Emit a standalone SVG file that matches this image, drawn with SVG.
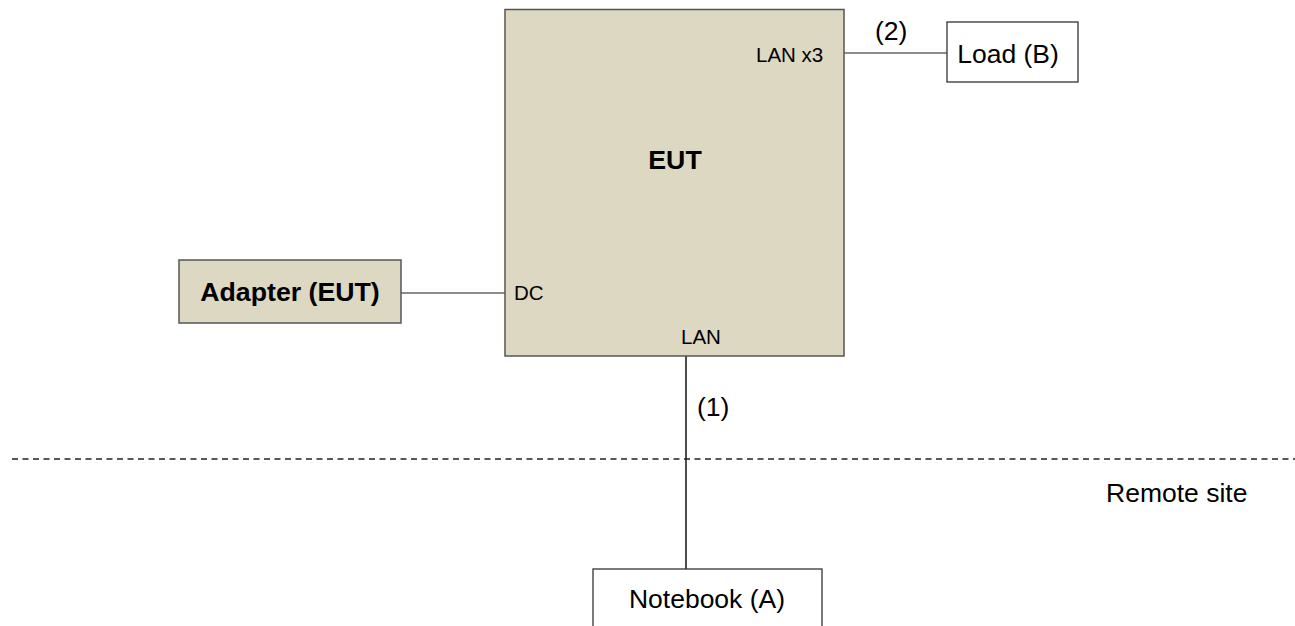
<svg xmlns="http://www.w3.org/2000/svg" width="1295" height="626" viewBox="0 0 1295 626">
<style>
.t{font-family:"Liberation Sans",Arial,sans-serif;fill:#000}
.lg{font-size:26.5px}
.sm{font-size:20.5px}
.b{font-size:26.7px;font-weight:bold}
.khaki{fill:#DDD8C2;stroke:#555;stroke-width:1.5}
.white{fill:#fff;stroke:#333;stroke-width:1.3}
.conn{stroke:#666;stroke-width:1.5;fill:none}
</style>
<rect width="1295" height="626" fill="#fff"/>
<g id="connectors">
<line class="conn" x1="401" y1="293" x2="505" y2="293"/>
<line class="conn" x1="844" y1="53" x2="947" y2="53"/>
<line x1="686" y1="356" x2="686" y2="569" stroke="#111" stroke-width="1.5"/>
<text class="t lg" x="697" y="416">(1)</text>
<text class="t lg" x="875" y="40">(2)</text>
</g>
<g id="boundary">
<line x1="12" y1="459" x2="1295" y2="459" stroke="#222" stroke-width="1.3" stroke-dasharray="6,4.5"/>
<text class="t lg" x="1106" y="502">Remote site</text>
</g>
<g id="eut">
<rect class="khaki" x="505" y="9.5" width="339" height="346.5"/>
<text class="t b" x="675" y="169" text-anchor="middle">EUT</text>
<text class="t sm" x="756" y="62">LAN x3</text>
<text class="t sm" x="514" y="300">DC</text>
<text class="t sm" x="681" y="344">LAN</text>
</g>
<g id="adapter">
<rect class="khaki" x="179" y="260" width="222" height="63"/>
<text class="t b" x="290" y="301" text-anchor="middle">Adapter (EUT)</text>
</g>
<g id="load">
<rect class="white" x="947" y="22" width="131" height="60"/>
<text class="t lg" x="1008" y="63" text-anchor="middle">Load (B)</text>
</g>
<g id="notebook">
<rect class="white" x="593" y="569" width="229" height="100"/>
<text class="t lg" x="707" y="608" text-anchor="middle">Notebook (A)</text>
</g>
</svg>
